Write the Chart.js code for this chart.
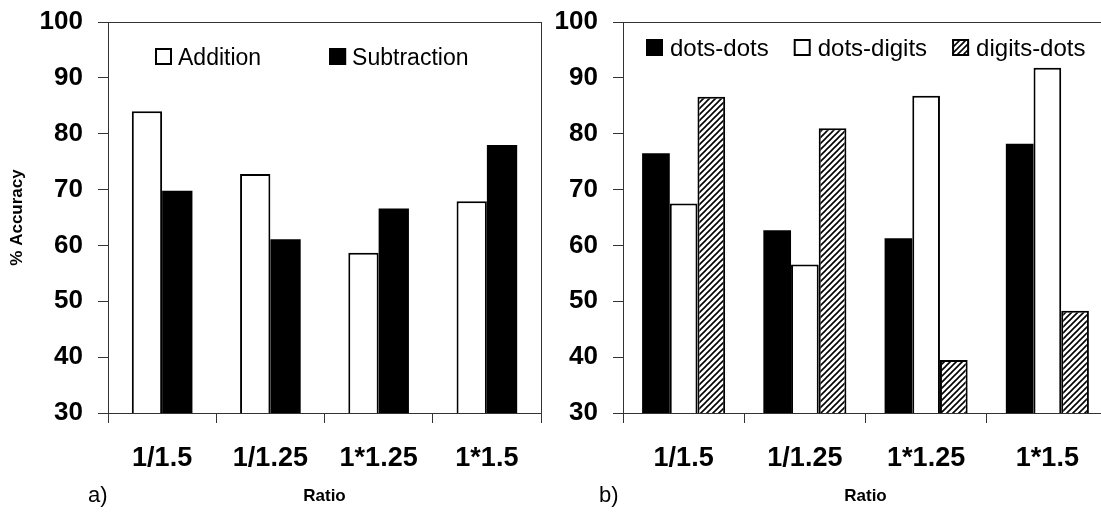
<!DOCTYPE html>
<html>
<head>
<meta charset="utf-8">
<script src="https://cdn.jsdelivr.net/npm/chart.js@4/dist/chart.umd.min.js"></script>
<style>
  html, body { margin: 0; padding: 0; background: #fff; overflow: hidden; }
  #wrap { position: relative; width: 1101px; height: 513px; overflow: hidden; }
  #c1 { position: absolute; left: 0; top: 0; }
  #c2 { position: absolute; left: 550px; top: 0; }
  .tag { position: absolute; font: 22px 'Liberation Sans', Arial, sans-serif; color: #000; line-height: 24px; }
</style>
</head>
<body>
<div id="wrap">
  <canvas id="c1" width="550" height="513"></canvas>
  <canvas id="c2" width="570" height="513"></canvas>
  <div class="tag" style="left:88px;top:483px">a)</div>
  <div class="tag" style="left:599px;top:483px">b)</div>
</div>
<script>
var FONT = "'Liberation Sans', Arial, sans-serif";

var ratios = ['1/1.5', '1/1.25', '1*1.25', '1*1.5'];
var yTicks = [30, 40, 50, 60, 70, 80, 90, 100];

// panel a
var addition = [84.0, 72.8, 58.7, 67.9];
var subtraction = [69.8, 61.1, 66.6, 78.0];

// panel b
var dotsDots = [76.5, 62.7, 61.3, 78.2];
var dotsDigits = [67.5, 56.6, 86.8, 91.8];
var digitsDots = [86.6, 81.0, 39.5, 48.3];

function hatch() {
  var c = document.createElement('canvas');
  c.width = 6; c.height = 6;
  var x = c.getContext('2d');
  x.fillStyle = '#fff';
  x.fillRect(0, 0, 6, 6);
  x.strokeStyle = '#000';
  x.lineWidth = 1.6;
  x.beginPath();
  x.moveTo(0, 6); x.lineTo(6, 0);
  x.moveTo(-3, 3); x.lineTo(3, -3);
  x.moveTo(3, 9); x.lineTo(9, 3);
  x.stroke();
  return x.createPattern(c, 'repeat');
}

// legend drawn inside the plot, Excel style
var boxLegend = {
  id: 'boxLegend',
  afterDraw: function (chart) {
    var o = chart.options.plugins.boxLegend;
    var ctx = chart.ctx;
    ctx.save();
    ctx.font = o.fontStr;
    ctx.textBaseline = 'alphabetic';
    var x = o.x;
    chart.data.datasets.forEach(function (ds) {
      ctx.fillStyle = ds.backgroundColor;
      ctx.fillRect(x, o.y, o.box, o.box);
      ctx.lineWidth = 2;
      ctx.strokeStyle = '#000';
      ctx.strokeRect(x + 1, o.y + 1, o.box - 2, o.box - 2);
      ctx.fillStyle = '#000';
      ctx.fillText(ds.label, x + o.box + o.textGap, o.y + o.box);
      x += o.box + o.textGap + ctx.measureText(ds.label).width + o.itemGap;
    });
    ctx.restore();
  }
};

var frame = {
  id: 'frame',
  afterDraw: function (chart) {
    var a = chart.chartArea, ctx = chart.ctx;
    ctx.save();
    ctx.strokeStyle = '#333';
    ctx.lineWidth = 1;
    ctx.strokeRect(Math.round(a.left) + 0.5, Math.round(a.top) + 0.5, Math.round(a.right - a.left), Math.round(a.bottom - a.top));
    ctx.restore();
  }
};

function scales(yWidth, yTitle) {
  return {
    x: {
      grid: { display: true, drawOnChartArea: false, drawTicks: true, tickLength: 10, color: '#333', offset: true },
      border: { display: true, color: '#333' },
      ticks: { font: { family: FONT, size: 27, weight: 'bold' }, color: '#000', padding: 19, maxRotation: 0 },
      title: { display: true, text: 'Ratio', font: { family: FONT, size: 17, weight: 'bold' }, color: '#000', padding: { top: 0, bottom: 6 } },
      afterFit: function (s) { s.height = 100; s.paddingLeft = 0; s.paddingRight = 0; }
    },
    y: {
      min: 30, max: 100,
      grid: { display: true, drawOnChartArea: false, drawTicks: true, tickLength: 10, color: '#333' },
      border: { display: true, color: '#333' },
      ticks: { font: { family: FONT, size: 26, weight: 'bold' }, color: '#000', padding: 15 },
      title: { display: !!yTitle, text: yTitle || '', font: { family: FONT, size: 17, weight: 'bold' }, color: '#000', padding: { top: 7, bottom: 0 } },
      afterBuildTicks: function (s) { s.ticks = yTicks.map(function (v) { return { value: v }; }); },
      afterFit: function (s) { s.width = yWidth; s.paddingTop = 0; s.paddingBottom = 0; }
    }
  };
}

var hatchFill = hatch();

new Chart(document.getElementById('c1'), {
  type: 'bar',
  data: {
    labels: ratios,
    datasets: [
      { label: 'Addition', data: addition, backgroundColor: '#fff', borderColor: '#000', borderWidth: 2 },
      { label: 'Subtraction', data: subtraction, backgroundColor: '#000', borderColor: '#000', borderWidth: 0 }
    ]
  },
  options: {
    responsive: false, animation: false,
    layout: { padding: { top: 22, right: 9, bottom: 0, left: 0 } },
    datasets: { bar: { barPercentage: 1, categoryPercentage: 0.56 } },
    plugins: {
      legend: { display: false }, tooltip: { enabled: false },
      boxLegend: { x: 155, y: 48, box: 17, textGap: 6, itemGap: 68, fontStr: '23px ' + FONT }
    },
    scales: scales(108, '% Accuracy')
  },
  plugins: [boxLegend, frame]
});

new Chart(document.getElementById('c2'), {
  type: 'bar',
  data: {
    labels: ratios,
    datasets: [
      { label: 'dots-dots', data: dotsDots, backgroundColor: '#000', borderColor: '#000', borderWidth: 0 },
      { label: 'dots-digits', data: dotsDigits, backgroundColor: '#fff', borderColor: '#000', borderWidth: 2 },
      { label: 'digits-dots', data: digitsDots, backgroundColor: hatchFill, borderColor: '#000', borderWidth: 2 }
    ]
  },
  options: {
    responsive: false, animation: false,
    layout: { padding: { top: 22, right: 12, bottom: 0, left: 0 } },
    datasets: { bar: { barPercentage: 1, categoryPercentage: 0.685 } },
    plugins: {
      legend: { display: false }, tooltip: { enabled: false },
      boxLegend: { x: 96, y: 39, box: 17, textGap: 7, itemGap: 25, fontStr: '24px ' + FONT }
    },
    scales: scales(73, '')
  },
  plugins: [boxLegend, frame]
});
</script>
</body>
</html>
